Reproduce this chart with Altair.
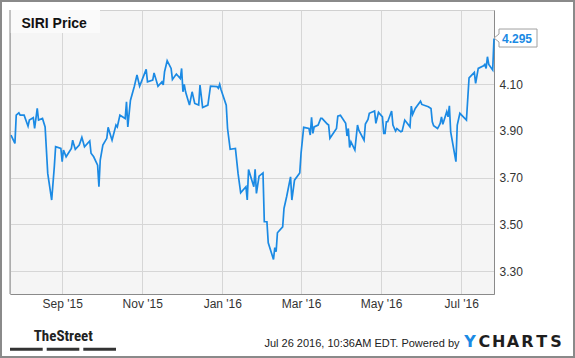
import altair as alt
import pandas as pd

dates = [
    "2015-07-24", "2015-07-27", "2015-07-28", "2015-07-30", "2015-07-31",
    "2015-08-03", "2015-08-06", "2015-08-07", "2015-08-10", "2015-08-11", "2015-08-13", "2015-08-14",
    "2015-08-17", "2015-08-19", "2015-08-21", "2015-08-24", "2015-08-26", "2015-08-27", "2015-08-31",
    "2015-09-01", "2015-09-02", "2015-09-04", "2015-09-08", "2015-09-09", "2015-09-10", "2015-09-11",
    "2015-09-14", "2015-09-16", "2015-09-18", "2015-09-22", "2015-09-23", "2015-09-25", "2015-09-28",
    "2015-09-29", "2015-09-30",
    "2015-10-02", "2015-10-05", "2015-10-06", "2015-10-07", "2015-10-09", "2015-10-12", "2015-10-13",
    "2015-10-15", "2015-10-19", "2015-10-20", "2015-10-21", "2015-10-23", "2015-10-26", "2015-10-28",
    "2015-10-30",
    "2015-11-02", "2015-11-04", "2015-11-05", "2015-11-09", "2015-11-10", "2015-11-13", "2015-11-16",
    "2015-11-17", "2015-11-18", "2015-11-20", "2015-11-23", "2015-11-24", "2015-11-27", "2015-11-30",
    "2015-12-01", "2015-12-02", "2015-12-03", "2015-12-04", "2015-12-07", "2015-12-09", "2015-12-11",
    "2015-12-14", "2015-12-15", "2015-12-17", "2015-12-21", "2015-12-23", "2015-12-28", "2015-12-29",
    "2015-12-30", "2015-12-31",
    "2016-01-04", "2016-01-05", "2016-01-07", "2016-01-11", "2016-01-13", "2016-01-15", "2016-01-19",
    "2016-01-20", "2016-01-21", "2016-01-25", "2016-01-26", "2016-01-27", "2016-01-29",
    "2016-02-01", "2016-02-02", "2016-02-04", "2016-02-05", "2016-02-09", "2016-02-10", "2016-02-11",
    "2016-02-12", "2016-02-16", "2016-02-17", "2016-02-19", "2016-02-22", "2016-02-23", "2016-02-25",
    "2016-02-29",
    "2016-03-01", "2016-03-03", "2016-03-07", "2016-03-08", "2016-03-09", "2016-03-10", "2016-03-11",
    "2016-03-14", "2016-03-16", "2016-03-17", "2016-03-21", "2016-03-22", "2016-03-23", "2016-03-28",
    "2016-03-29", "2016-03-31",
    "2016-04-04", "2016-04-05", "2016-04-06", "2016-04-07", "2016-04-08", "2016-04-11", "2016-04-13",
    "2016-04-14", "2016-04-18", "2016-04-19", "2016-04-21", "2016-04-22", "2016-04-26", "2016-04-27",
    "2016-04-29",
    "2016-05-02", "2016-05-03", "2016-05-04", "2016-05-05", "2016-05-06", "2016-05-09", "2016-05-10",
    "2016-05-12", "2016-05-13", "2016-05-16", "2016-05-17", "2016-05-19", "2016-05-23", "2016-05-24",
    "2016-05-25", "2016-05-27", "2016-05-31",
    "2016-06-01", "2016-06-06", "2016-06-08", "2016-06-09", "2016-06-10", "2016-06-13", "2016-06-14",
    "2016-06-15", "2016-06-16", "2016-06-17", "2016-06-20", "2016-06-21", "2016-06-22", "2016-06-23",
    "2016-06-27", "2016-06-28", "2016-06-30",
    "2016-07-05", "2016-07-07", "2016-07-11", "2016-07-12", "2016-07-14", "2016-07-18", "2016-07-19",
    "2016-07-20", "2016-07-21", "2016-07-22", "2016-07-25", "2016-07-26",
]

prices = [
    3.882, 3.846, 3.967, 3.977, 3.967,
    3.967, 3.920, 3.946, 3.956, 3.910, 3.996, 3.946,
    3.953, 3.917, 3.718, 3.604, 3.746, 3.832, 3.825,
    3.768, 3.818, 3.789, 3.825, 3.860, 3.839, 3.821,
    3.839, 3.872, 3.832, 3.857, 3.804, 3.789, 3.753,
    3.661, 3.775,
    3.839, 3.868, 3.915, 3.896, 3.860, 3.925, 3.917,
    3.967, 3.953, 4.024, 3.917, 4.030, 4.091, 4.139,
    4.091,
    4.134, 4.163, 4.110, 4.117, 4.148, 4.091, 4.110,
    4.096, 4.153, 4.200, 4.167, 4.120, 4.143, 4.124,
    4.167, 4.067, 4.099, 4.067, 4.010, 4.067, 4.017,
    4.010, 4.096, 4.000, 4.010, 4.091, 4.089, 4.082,
    4.099, 4.077,
    4.010, 3.910, 3.821, 3.825, 3.718, 3.635, 3.661,
    3.604, 3.735, 3.661, 3.735, 3.632, 3.706,
    3.720, 3.511, 3.511, 3.421, 3.350, 3.401, 3.383,
    3.464, 3.489, 3.568, 3.618, 3.703, 3.604, 3.689,
    3.720,
    3.804, 3.915, 3.910, 3.882, 3.958, 3.889, 3.917,
    3.925, 3.953, 3.953, 3.929, 3.925, 3.868, 3.910,
    3.963, 3.967,
    3.932, 3.878, 3.910, 3.829, 3.853, 3.818, 3.925,
    3.903, 3.860, 3.929, 3.949, 3.975, 3.985, 3.932,
    3.979,
    3.960, 3.889, 3.889, 3.939, 3.939, 3.985, 3.925,
    3.899, 3.910, 3.896, 3.899, 3.946, 3.917, 4.006,
    3.970, 3.996, 4.027,
    4.013, 4.003, 3.996, 3.939, 3.922, 3.910, 3.920,
    3.932, 3.960, 3.928, 3.982, 3.960, 4.007, 3.896,
    3.768, 3.925, 3.975,
    3.946, 4.127, 4.150, 4.103, 4.167, 4.178, 4.184,
    4.167, 4.217, 4.184, 4.160, 4.295,
]

y_ticks = [3.30, 3.50, 3.70, 3.90, 4.10]
x_tick_months = [(2015, 9), (2015, 11), (2016, 1), (2016, 3), (2016, 5), (2016, 7)]
title_text = "SIRI Price"
stamp_text = "Jul 26 2016, 10:36AM EDT.  Powered by"
brand_left = "TheStreet"
brand_right = "YCHARTS"

LINE = "#1b8ae4"
FONT = "Liberation Sans, Arial, sans-serif"
W, H = 484, 284

df = pd.DataFrame({"date": dates, "price": prices})
last = pd.DataFrame({"date": [dates[-1]], "price": [prices[-1]], "label": [f"{prices[-1]:.3f}"]})

x_scale = alt.Scale(
    type="utc",
    domain=[alt.DateTime(year=2015, month=7, date=23, hours=6, utc=True),
            alt.DateTime(year=2016, month=7, date=26, utc=True)],
)
y_scale = alt.Scale(domain=[3.202, 4.417], nice=False, zero=False)

x_enc = alt.X(
    "date:T", scale=x_scale, title=None,
    axis=alt.Axis(
        values=[alt.DateTime(year=y, month=m, date=1, utc=True) for y, m in x_tick_months],
        format="%b '%y", ticks=False, labelPadding=4, domainColor="#8a8a8a",
        gridColor="#d6d6d6", labelColor="#333333", labelFontSize=12, labelFont=FONT,
    ),
)
y_enc = alt.Y(
    "price:Q", scale=y_scale, title=None,
    axis=alt.Axis(
        orient="right", values=y_ticks, format=".2f", ticks=False, labelPadding=5,
        domainColor="#8a8a8a", gridColor="#d6d6d6", labelColor="#333333",
        labelFontSize=12, labelFont=FONT,
    ),
)

one = alt.Data(values=[{}])

title_box = alt.Chart(one).mark_rect(fill="#fafafa").encode(
    x=alt.value(0), x2=alt.value(90), y=alt.value(0), y2=alt.value(23))

line = alt.Chart(df).mark_line(color=LINE, strokeWidth=1.7, interpolate="linear").encode(
    x=x_enc, y=y_enc)

callout = alt.Chart(last).mark_point(
    shape="M0,-0.5 L5,-4.5 L5,-9.5 L43,-9.5 L43,8.5 L5,8.5 L5,3.5 Z",
    size=4, filled=True, fill="white", stroke="#a0a0a0", strokeWidth=1, opacity=1,
).encode(x=alt.X("date:T", scale=x_scale), y=alt.Y("price:Q", scale=y_scale))

callout_text = alt.Chart(last).mark_text(
    dx=23, dy=0, align="center", baseline="middle", font=FONT, fontSize=12,
    fontWeight="bold", color=LINE,
).encode(x=alt.X("date:T", scale=x_scale), y=alt.Y("price:Q", scale=y_scale), text="label:N")

title = alt.Chart(one).mark_text(
    text=title_text, align="left", baseline="middle", font=FONT, fontSize=14,
    fontWeight="bold", color="#111111",
).encode(x=alt.value(11.5), y=alt.value(14))

left_edge = alt.Chart(one).mark_rule(color="#8a8a8a", strokeWidth=1).encode(
    x=alt.value(0), y=alt.value(0), y2=alt.value(H))

street = alt.Chart(one).mark_text(
    text=brand_left, align="center", baseline="middle",
    font="Liberation Sans Narrow, Arial Narrow, Roboto Condensed, Liberation Sans, sans-serif",
    fontSize=15, fontWeight="bold", color="#222222",
).encode(x=alt.value(53.3), y=alt.value(326))

bars = [
    alt.Chart(one).mark_rule(color="#333333", strokeWidth=3).encode(
        x=alt.value(a), x2=alt.value(b), y=alt.value(339.3))
    for a, b in [(0, 32.7), (36.7, 69.3), (73.3, 106)]
]

stamp = alt.Chart(one).mark_text(
    text=stamp_text, align="right", baseline="middle", font=FONT, fontSize=11,
    color="#222222",
).encode(x=alt.value(449.5), y=alt.value(333.5))

letters = []
for i, ch in enumerate(brand_right):
    letters.append(
        alt.Chart(one).mark_text(
            text=ch, align="center", baseline="middle",
            font="DejaVu Sans, Liberation Sans, sans-serif", fontSize=16,
            fontWeight="bold", color=LINE if i == 0 else "#1e1e1e",
        ).encode(x=alt.value(453 + 14.3 * i + 7.1), y=alt.value(331.5))
    )

frame = alt.Chart(one).mark_rect(fillOpacity=0, stroke="#8a8a8a", strokeWidth=2).encode(
    x=alt.value(-9), x2=alt.value(564), y=alt.value(-9), y2=alt.value(347))

chart = alt.layer(
    title_box, line, callout, callout_text, title, left_edge, street, *bars, stamp, *letters, frame
).properties(
    width=W, height=H,
    padding={"left": 10, "top": 10, "right": 81, "bottom": 64},
    autosize=alt.AutoSizeParams(type="none"),
).configure(background="white").configure_view(
    fill="#f5f5f5", stroke="#d0d0d0", strokeWidth=1
)

chart.save("out.html", embed_options={"renderer": "svg", "actions": False})
